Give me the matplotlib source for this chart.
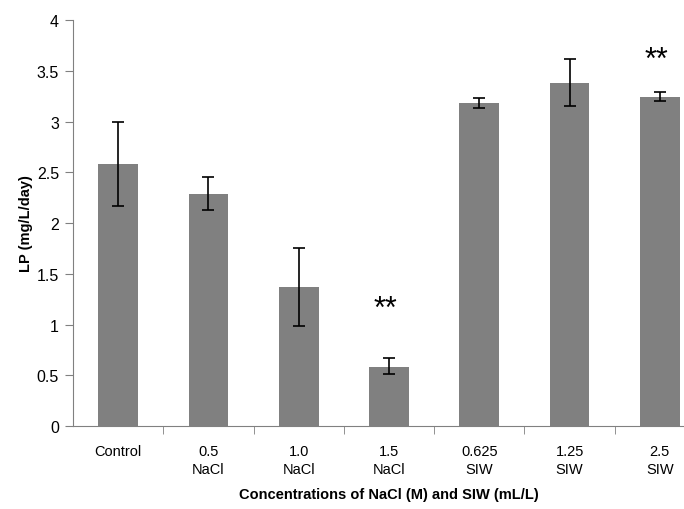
import matplotlib.pyplot as plt
import numpy as np

plt.rcParams['font.family'] = ['Liberation Sans', 'DejaVu Sans']

# dados
categorias = ["Control", "0.5\nNaCl", "1.0\nNaCl", "1.5\nNaCl", "0.625\nSIW", "1.25\nSIW", "2.5\nSIW"]
lp = [2.58, 2.29, 1.37, 0.58, 3.18, 3.38, 3.24]
erro_inf = [0.41, 0.16, 0.38, 0.07, 0.05, 0.23, 0.04]
erro_sup = [0.42, 0.16, 0.38, 0.09, 0.05, 0.24, 0.05]
# marcas de significância: (índice da barra, altura)
signif_idx = [3, 6]
signif_y = [1.15, 3.61]

fig = plt.figure(figsize=(6.84, 5.10), dpi=100)
# eixo vai além da borda direita (a figura original está cortada)
ax = fig.add_axes([73/684, 1 - 427/510, 632/684, 406/510])

x = np.arange(len(categorias))
ax.bar(x, lp, width=0.44, color="#808080", zorder=2)
ax.errorbar(x, lp, yerr=[erro_inf, erro_sup], fmt="none", ecolor="black",
            elinewidth=1.2, capsize=4, capthick=1.2, zorder=3)

for i, yi in zip(signif_idx, signif_y):
    ax.text(x[i] - 0.04, yi, "**", ha="center", va="center", fontsize=22)

ax.set_xlim(-0.5, len(categorias) - 0.5)
ax.set_ylim(0, 4)
ax.set_yticks(np.arange(0, 4.01, 0.5))
ax.set_yticklabels(["0", "0.5", "1", "1.5", "2", "2.5", "3", "3.5", "4"])
ax.set_xticks(x)
ax.set_xticklabels(categorias, fontsize=10.5, linespacing=1.35)
ax.set_xticks(np.arange(0.5, len(categorias) - 1, 1), minor=True)
ax.tick_params(axis="x", which="major", length=0, pad=13)
ax.tick_params(axis="x", which="minor", length=6, color="#808080")
ax.tick_params(axis="y", length=6, color="#808080", labelsize=11.5, pad=4)

for lado in ["top", "right"]:
    ax.spines[lado].set_visible(False)
ax.spines["left"].set_color("#808080")
ax.spines["bottom"].set_color("#808080")

ax.set_ylabel("LP (mg/L/day)", fontsize=10.5, fontweight="bold", labelpad=3)
ax.set_xlabel("Concentrations of NaCl (M) and SIW (mL/L)", fontsize=10.5,
              fontweight="bold", labelpad=8)

plt.savefig("out.png", dpi=100)
